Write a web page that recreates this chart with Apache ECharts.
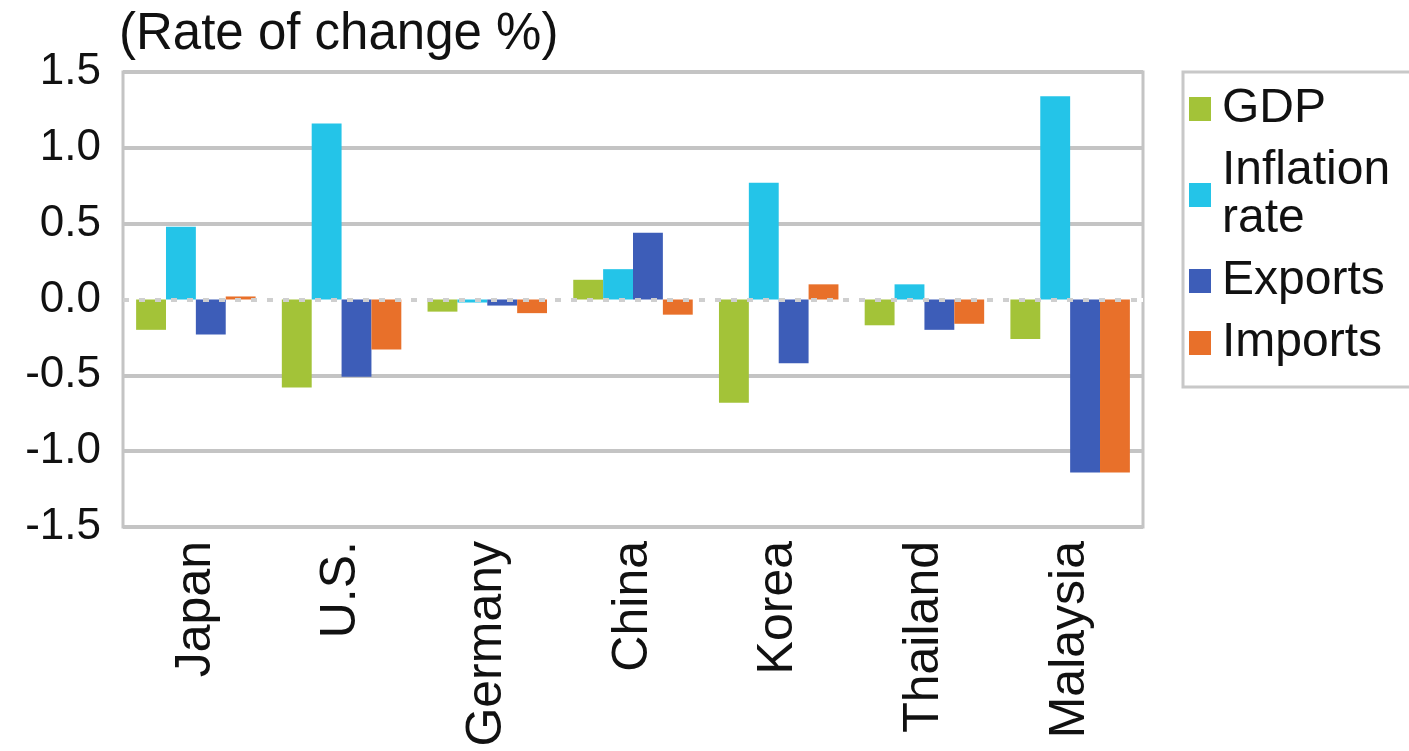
<!DOCTYPE html>
<html>
<head>
<meta charset="utf-8">
<script src="https://cdn.jsdelivr.net/npm/echarts@6/dist/echarts.min.js"></script>
<style>
  html, body { margin: 0; padding: 0; background: #fff; }
  #chart { width: 1409px; height: 751px; }
</style>
</head>
<body>
<div id="chart"></div>
<script>
// values
var countries = ['Japan', 'U.S.', 'Germany', 'China', 'Korea', 'Thailand', 'Malaysia'];
var gdp       = [-0.20, -0.58, -0.08, 0.13, -0.68, -0.17, -0.26];
var inflation = [0.48, 1.16, -0.02, 0.20, 0.77, 0.10, 1.34];
var exports_  = [-0.23, -0.51, -0.04, 0.44, -0.42, -0.20, -1.14];
var imports_  = [0.02, -0.33, -0.09, -0.10, 0.10, -0.16, -1.14];

var seriesNames = ['GDP', 'Inflation rate', 'Exports', 'Imports'];
var colors = ['#a3c338', '#24c4e8', '#3d5db8', '#e8702a'];

var font = 'Liberation Sans, Arial, sans-serif';

new function() {
    var myChart = echarts.init(document.getElementById('chart'));

    function bar(name, data, color) {
        return {
            name: name,
            type: 'bar',
            data: data,
            barGap: '0%',
            barCategoryGap: '18%',
            itemStyle: { color: color }
        };
    }

    var series = [
        bar(seriesNames[0], gdp, colors[0]),
        bar(seriesNames[1], inflation, colors[1]),
        bar(seriesNames[2], exports_, colors[2]),
        bar(seriesNames[3], imports_, colors[3])
    ];
    // dotted zero line
    series[0].markLine = {
        silent: true,
        symbol: 'none',
        label: { show: false },
        lineStyle: { color: '#cfcfcf', type: [6, 10], width: 4 },
        data: [{ yAxis: 0 }]
    };

    var option = {
        animation: false,
        backgroundColor: '#fff',
        textStyle: { fontFamily: font },
        grid: {
            left: 123, right: 266, top: 72, bottom: 224,
            show: true, borderColor: '#c4c4c4', borderWidth: 3
        },
        legend: {
            orient: 'vertical',
            left: 1183, top: 72,
            width: 240,
            padding: [13, 40, 20, 6],
            borderColor: '#c8c8c8',
            borderWidth: 3,
            itemWidth: 22, itemHeight: 24,
            itemGap: 14,
            icon: 'rect',
            data: seriesNames,
            formatter: function(n) { return n === 'Inflation rate' ? 'Inflation\nrate' : n; },
            textStyle: { fontSize: 48, color: '#111', lineHeight: 48, fontFamily: font, padding: [0, 0, 0, 6] }
        },
        xAxis: {
            type: 'category',
            data: countries,
            position: 'bottom',
            axisLine: { onZero: false, show: false },
            axisTick: { show: false },
            axisLabel: {
                rotate: 90, fontSize: 50, color: '#111', margin: 14, fontFamily: font
            }
        },
        yAxis: {
            type: 'value',
            min: -1.5, max: 1.5, interval: 0.5,
            name: '(Rate of change %)',
            nameLocation: 'end',
            nameGap: 12,
            nameTextStyle: { fontSize: 51, color: '#111', align: 'left', padding: [0, 0, 0, -4], fontFamily: font },
            axisLine: { show: false },
            axisTick: { show: false },
            axisLabel: {
                fontSize: 44, color: '#111', margin: 22, fontFamily: font,
                formatter: function(v) { return v.toFixed(1); }
            },
            splitLine: {
                lineStyle: {
                    color: ['#c4c4c4', '#c4c4c4', '#c4c4c4', '#ffffff', '#c4c4c4', '#c4c4c4', '#c4c4c4'],
                    width: 4
                }
            }
        },
        series: series
    };

    myChart.setOption(option);
}
</script>
</body>
</html>
